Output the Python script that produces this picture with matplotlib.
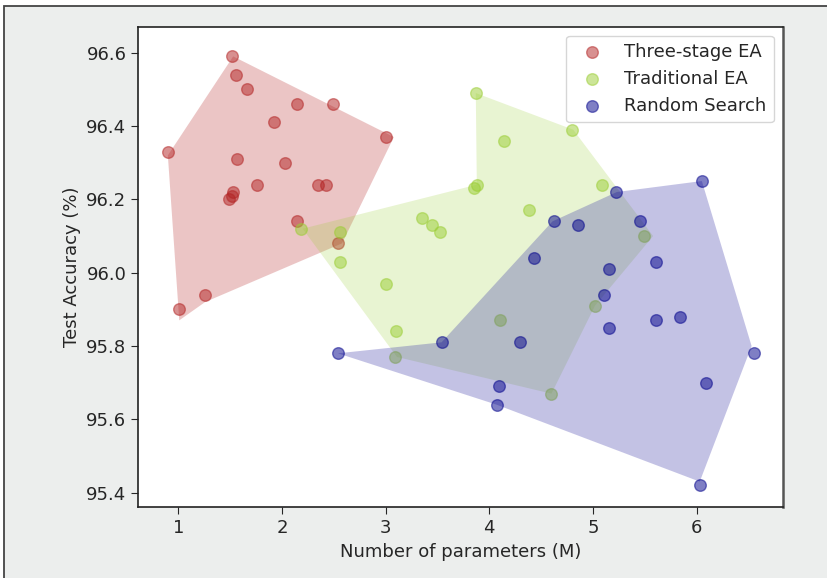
import matplotlib
matplotlib.use("Agg")
import matplotlib.pyplot as plt
from matplotlib.patches import Polygon, Rectangle

# --- data ---
red_x = [1.52, 1.56, 1.66, 2.15, 2.49, 1.92, 3.00, 0.90, 1.57, 2.03,
         1.76, 2.35, 2.43, 1.53, 1.52, 1.49, 2.15, 2.54, 1.26, 1.01]
red_y = [96.59, 96.54, 96.50, 96.46, 96.46, 96.41, 96.37, 96.33, 96.31, 96.30,
         96.24, 96.24, 96.24, 96.22, 96.21, 96.20, 96.14, 96.08, 95.94, 95.90]

green_x = [3.87, 4.14, 4.80, 3.88, 3.85, 5.09, 4.38, 3.35, 3.45, 3.52,
           2.18, 2.56, 2.56, 3.00, 3.10, 3.09, 4.10, 4.60, 5.02, 5.49]
green_y = [96.49, 96.36, 96.39, 96.24, 96.23, 96.24, 96.17, 96.15, 96.13, 96.11,
           96.12, 96.11, 96.03, 95.97, 95.84, 95.77, 95.87, 95.67, 95.91, 96.10]

blue_x = [2.54, 3.54, 4.30, 4.09, 4.07, 4.62, 4.86, 5.22, 5.45, 4.43,
          5.15, 5.61, 5.11, 5.15, 5.61, 5.84, 6.55, 6.09, 6.03, 6.05]
blue_y = [95.78, 95.81, 95.81, 95.69, 95.64, 96.14, 96.13, 96.22, 96.14, 96.04,
          96.01, 96.03, 95.94, 95.85, 95.87, 95.88, 95.78, 95.70, 95.42, 96.25]

# outlines of the shaded regions
red_hull_x = [1.53, 3.08, 2.58, 1.26, 1.01, 0.90]
red_hull_y = [96.59, 96.37, 96.08, 95.92, 95.87, 96.32]

green_hull_x = [2.20, 3.88, 3.87, 4.81, 5.58, 5.02, 4.60, 3.11]
green_hull_y = [96.12, 96.24, 96.49, 96.39, 96.10, 95.91, 95.67, 95.77]

blue_hull_x = [2.54, 3.54, 4.61, 5.23, 6.05, 6.53, 6.03, 4.07]
blue_hull_y = [95.78, 95.81, 96.14, 96.22, 96.25, 95.80, 95.43, 95.64]

# name, points, outline, point colour, fill colour, fill alpha
groups = [
    ("Three-stage EA", red_x, red_y, red_hull_x, red_hull_y, "firebrick", "firebrick", 0.26),
    ("Traditional EA", green_x, green_y, green_hull_x, green_hull_y, "yellowgreen", "yellowgreen", 0.22),
    ("Random Search", blue_x, blue_y, blue_hull_x, blue_hull_y, "darkblue", "#3a36a8", 0.3),
]

plt.rcParams["font.family"] = "DejaVu Sans"
plt.rcParams["font.size"] = 13

fig = plt.figure(figsize=(8.27, 5.78), dpi=100, facecolor="white")
# grey frame of the figure
fig.add_artist(Rectangle((3.5 / 827, -0.05), 1.1, 1 - 6 / 578 + 0.05,
                         transform=fig.transFigure, facecolor="#eceeed",
                         edgecolor="#444444", lw=1.3, zorder=-5, clip_on=False))

ax = fig.add_axes([138.3 / 827, 1 - 507.3 / 578, (782.7 - 138.3) / 827, (507.3 - 26.7) / 578])
ax.set_facecolor("white")

for name, xs, ys, hx, hy, col, fcol, fa in groups:
    poly = Polygon(list(zip(hx, hy)), closed=True, facecolor=fcol, alpha=fa,
                   edgecolor="none")
    ax.add_patch(poly)
    ax.scatter(xs, ys, s=70, color=col, alpha=0.5, linewidths=1,
               edgecolors=col, label=name)

ax.set_xlim(0.615, 6.83)
ax.set_ylim(95.36, 96.671)
ax.set_xticks([1, 2, 3, 4, 5, 6])
ax.set_yticks([95.4, 95.6, 95.8, 96.0, 96.2, 96.4, 96.6])
ax.set_xlabel("Number of parameters (M)", color="#262626")
ax.set_ylabel("Test Accuracy (%)", color="#262626")
ax.tick_params(colors="#262626", labelsize=13, length=5)
for side in ["left", "bottom", "top"]:
    ax.spines[side].set_color("#222222")
    ax.spines[side].set_linewidth(1.2)
ax.spines["right"].set_color("#555555")
ax.spines["right"].set_linewidth(1.8)

leg = ax.legend(loc="upper right", fontsize=13)
for t in leg.get_texts():
    t.set_color("#262626")

fig.savefig("out.png", dpi=100, facecolor=fig.get_facecolor())
